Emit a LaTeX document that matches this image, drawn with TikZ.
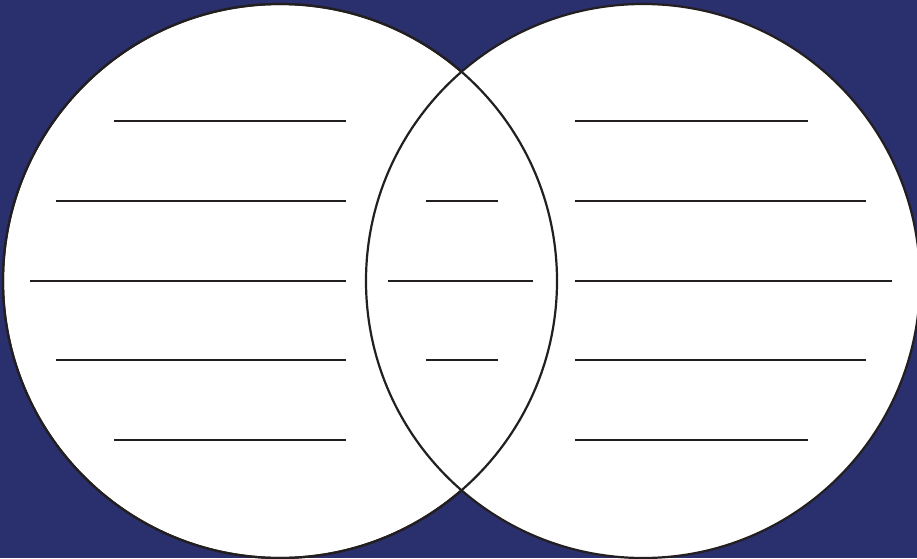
\documentclass[tikz,border=0pt]{standalone}
\definecolor{navy}{HTML}{2A2F6E}
\definecolor{ink}{HTML}{231F20}
\tikzset{
  venn/.style={circle, draw=ink, line width=2.2pt, fill=white, minimum size=554pt, inner sep=0pt},
  rule/.style={draw=ink, line width=2.4pt},
}
\begin{document}
\begin{tikzpicture}[x=1pt,y=-1pt]
\fill[navy] (0,0) rectangle (917,558);
\useasboundingbox (0,0) rectangle (917,558);
\begin{scope}
\clip (0,0) rectangle (917,558);
\node[venn] (L) at (280,281) {};
\node[venn] (R) at (643,281) {};
\draw[draw=ink, line width=2.2pt] (L.center) circle[radius=277];
\end{scope}
% left lines
\draw[rule] (114,121) -- (346,121);
\draw[rule] (56,201) -- (346,201);
\draw[rule] (30,281) -- (346,281);
\draw[rule] (56,360) -- (346,360);
\draw[rule] (114,440) -- (346,440);
% middle lines
\draw[rule] (426,201) -- (498,201);
\draw[rule] (388,281) -- (533,281);
\draw[rule] (426,360) -- (498,360);
% right lines
\draw[rule] (575,121) -- (808,121);
\draw[rule] (575,201) -- (866,201);
\draw[rule] (575,281) -- (892,281);
\draw[rule] (575,360) -- (866,360);
\draw[rule] (575,440) -- (808,440);
\end{tikzpicture}
\end{document}
